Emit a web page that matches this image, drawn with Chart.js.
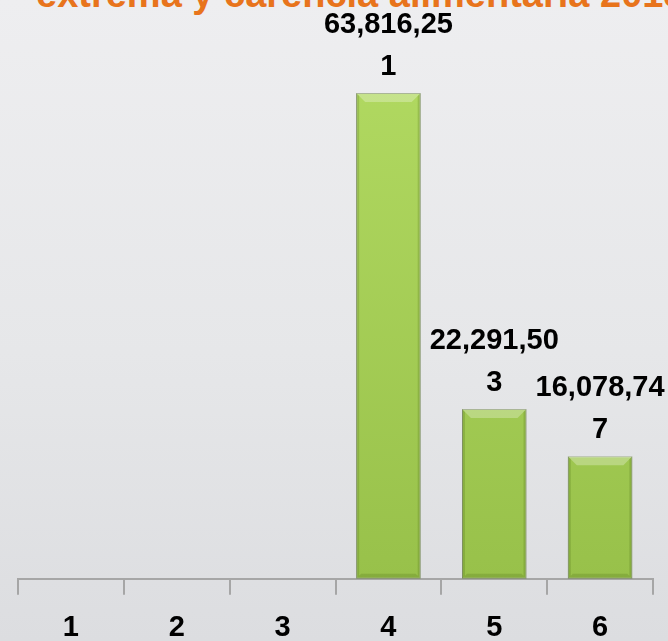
<!DOCTYPE html>
<html>
<head>
<meta charset="utf-8">
<script src="https://cdn.jsdelivr.net/npm/chart.js@4"></script>
<style>
  html, body { margin: 0; padding: 0; }
  body {
    width: 668px; height: 641px; overflow: hidden; position: relative;
    background: linear-gradient(180deg, #eeeef0 0%, #e6e7e9 55%, #dcdde0 100%);
  }
  #title {
    position: absolute; left: 36px; top: -25px; white-space: nowrap;
    font: bold 38px "Liberation Sans", Arial, sans-serif; line-height: 38px;
    color: #e8741c;
  }
  #wrap { position: absolute; left: 0; top: 0; width: 668px; height: 641px; }
</style>
</head>
<body>
<div id="title">extrema y carencia alimentaria 2013</div>
<div id="wrap"><canvas id="myChart"></canvas></div>
<script>
const categories = ["1", "2", "3", "4", "5", "6"];
const values = [null, null, null, 63816251, 22291503, 16078747];
const yMax = 70000000;

const labelFont = 'bold 29px "Liberation Sans", Arial, sans-serif';

// bevelled look of the bars, drawn over each bar element
const bevel = {
  id: "bevel",
  afterDatasetsDraw(chart) {
    const ctx = chart.ctx;
    chart.getDatasetMeta(0).data.forEach((bar, i) => {
      if (values[i] == null) return;
      const l = bar.x - bar.width / 2, r = bar.x + bar.width / 2;
      const t = bar.y, b = bar.base, d = 9;
      ctx.save();
      ctx.fillStyle = "rgba(255,255,255,0.28)";
      ctx.beginPath();
      ctx.moveTo(l, t); ctx.lineTo(r, t); ctx.lineTo(r - d, t + d); ctx.lineTo(l + d, t + d);
      ctx.closePath(); ctx.fill();
      ctx.fillStyle = "rgba(60,90,10,0.2)";
      ctx.beginPath();
      ctx.moveTo(l, t); ctx.lineTo(l + 3, t + 3); ctx.lineTo(l + 3, b - 3); ctx.lineTo(l, b);
      ctx.closePath(); ctx.fill();
      ctx.beginPath();
      ctx.moveTo(r, t); ctx.lineTo(r - 3, t + 3); ctx.lineTo(r - 3, b - 3); ctx.lineTo(r, b);
      ctx.closePath(); ctx.fill();
      ctx.beginPath();
      ctx.moveTo(l, b); ctx.lineTo(r, b); ctx.lineTo(r - 5, b - 5); ctx.lineTo(l + 5, b - 5);
      ctx.closePath(); ctx.fill();
      ctx.restore();
    });
  }
};

// value labels, wrapped like the original
const valueLabels = {
  id: "valueLabels",
  afterDatasetsDraw(chart) {
    const ctx = chart.ctx;
    ctx.save();
    ctx.font = labelFont;
    ctx.fillStyle = "#000";
    ctx.textAlign = "center";
    ctx.textBaseline = "middle";
    chart.getDatasetMeta(0).data.forEach((bar, i) => {
      if (values[i] == null) return;
      const txt = values[i].toLocaleString("en-US");
      let cut = txt.length;
      while (cut > 1 && ctx.measureText(txt.slice(0, cut)).width > 136) cut--;
      const lines = cut < txt.length ? [txt.slice(0, cut), txt.slice(cut)] : [txt];
      const n = lines.length;
      lines.forEach((ln, k) => {
        ctx.fillText(ln, bar.x, bar.y - 26 - (n - 1 - k) * 42);
      });
    });
    ctx.restore();
  }
};

const ctx = document.getElementById("myChart").getContext("2d");
new Chart(ctx, {
  type: "bar",
  data: {
    labels: categories,
    datasets: [
      {
        data: values,
        backgroundColor: (c) => {
          const area = c.chart.chartArea;
          if (!area) return "#a6cf56";
          const g = c.chart.ctx.createLinearGradient(0, area.top, 0, area.bottom);
          g.addColorStop(0, "#b2da62");
          g.addColorStop(1, "#98c14a");
          return g;
        },
        borderColor: "#8a9a70",
        borderWidth: 1,
        borderSkipped: false,
        categoryPercentage: 1,
        barPercentage: 0.61,
      },
    ],
  },
  options: {
    responsive: true,
    maintainAspectRatio: false,
    animation: false,
    layout: { padding: { left: 18, right: 15, top: 46, bottom: -21 } },
    plugins: {
      legend: { display: false },
      tooltip: { enabled: false },
    },
    scales: {
      x: {
        grid: {
          offset: true,
          drawOnChartArea: false,
          drawTicks: true,
          tickLength: 16,
          color: "#a6a6a6",
          lineWidth: 2,
        },
        border: { display: true, color: "#a6a6a6", width: 2 },
        ticks: {
          color: "#000",
          padding: 17,
          font: { family: '"Liberation Sans", Arial, sans-serif', size: 29, weight: "bold", lineHeight: 1.15 },
        },
      },
      y: {
        display: false,
        min: 0,
        max: yMax,
      },
    },
  },
  plugins: [bevel, valueLabels],
});
</script>
</body>
</html>
